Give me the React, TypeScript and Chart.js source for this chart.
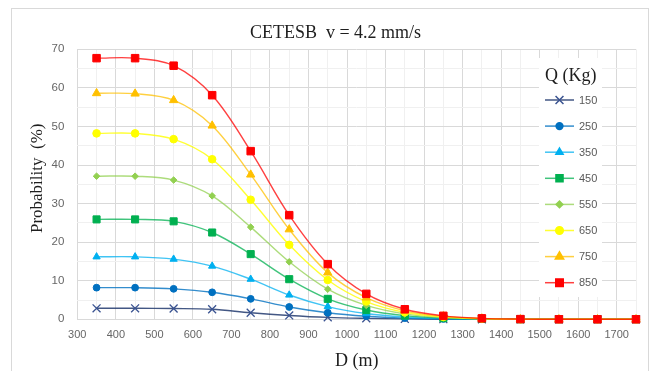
import React, { useEffect, useRef } from 'react';
import { Chart, registerables } from 'chart.js';
import { drawPoint } from 'chart.js/helpers';

Chart.register(...registerables);

// ---- data ----
const distances = [350, 450, 550, 650, 750, 850, 950, 1050, 1150, 1250, 1350, 1450, 1550, 1650, 1750];
const q150 = [2.85, 2.85, 2.8, 2.6, 1.7, 1.0, 0.5, 0.25, 0.1, 0.03, 0, 0, 0, 0, 0];
const q250 = [8.2, 8.2, 7.9, 7.0, 5.3, 3.2, 1.7, 0.8, 0.3, 0.1, 0.03, 0, 0, 0, 0];
const q350 = [16.2, 16.2, 15.6, 13.8, 10.4, 6.3, 3.3, 1.5, 0.6, 0.2, 0.05, 0, 0, 0, 0];
const q450 = [25.9, 25.9, 25.4, 22.5, 16.9, 10.4, 5.3, 2.4, 0.95, 0.3, 0.09, 0, 0, 0, 0];
const q550 = [37.1, 37.1, 36.1, 32.0, 23.9, 14.9, 7.8, 3.6, 1.4, 0.45, 0.13, 0, 0, 0, 0];
const q650 = [48.2, 48.2, 46.7, 41.5, 31.0, 19.3, 10.2, 4.6, 1.8, 0.6, 0.17, 0, 0, 0, 0];
const q750 = [58.6, 58.5, 56.8, 50.2, 37.5, 23.3, 12.1, 5.6, 2.2, 0.75, 0.2, 0, 0, 0, 0];
const q850 = [67.7, 67.7, 65.75, 58.1, 43.6, 27.0, 14.3, 6.6, 2.6, 0.9, 0.25, 0.05, 0, 0, 0];

const seriesLabels = ['150', '250', '350', '450', '550', '650', '750', '850'];
const seriesValues = [q150, q250, q350, q450, q550, q650, q750, q850];

const xMin = 300;
const xMax = 1750;
const xStep = 50;
const yMin = 0;
const yMax = 70;
const yStep = 5;

const chartTitle = 'CETESB  v = 4.2 mm/s';
const xTitle = 'D (m)';
const yTitle = 'Probability  (%)';
const legendTitle = 'Q (Kg)';

// ---- styles ----
const lineColors = [
  'rgba(34,57,110,0.85)',
  'rgba(0,112,192,0.8)',
  'rgba(0,176,240,0.75)',
  'rgba(0,176,80,0.75)',
  'rgba(146,208,80,0.75)',
  'rgba(255,255,0,0.8)',
  'rgba(255,192,0,0.75)',
  'rgba(255,0,0,0.75)',
];
const markerColors = ['#3A5391', '#0070C0', '#00B0F0', '#00B050', '#92D050', '#FFFF00', '#FFC000', '#FF0000'];
const markerStyles = ['crossRot', 'circle', 'triangle', 'rect', 'rectRot', 'circle', 'triangle', 'rect'];
const markerRadii = [5.6, 3.4, 4.2, 5.0, 3.3, 3.8, 4.8, 5.3];

const SERIF = '"Liberation Serif", "DejaVu Serif", serif';
const SANS = '"Liberation Sans", Arial, sans-serif';
const TICK_COLOR = '#666666';

const decorPlugin = {
  id: 'decor',
  beforeDraw(chart: any) {
    const ctx = chart.ctx;
    ctx.save();
    ctx.strokeStyle = '#D9D9D9';
    ctx.lineWidth = 1;
    ctx.strokeRect(3.5, 0.5, 637, 420);
    ctx.restore();
  },
  afterDraw(chart: any) {
    const ctx = chart.ctx;
    const a = chart.chartArea;
    ctx.save();
    // chart title
    ctx.fillStyle = '#1E1E1E';
    ctx.font = `18px ${SERIF}`;
    ctx.textAlign = 'center';
    ctx.textBaseline = 'alphabetic';
    ctx.fillText(chartTitle, 327.5, 29.5);

    // x title
    ctx.textBaseline = 'middle';
    ctx.fillText(xTitle, (a.left + a.right) / 2, 353.5);

    // y title
    ctx.save();
    ctx.translate(29.3, 170.3);
    ctx.rotate(-Math.PI / 2);
    ctx.font = `17px ${SERIF}`;
    ctx.fillText(yTitle, 0, 0);
    ctx.restore();

    // legend box
    ctx.fillStyle = '#FFFFFF';
    ctx.fillRect(531, 50, 63, 239);
    ctx.fillStyle = '#1E1E1E';
    ctx.font = `18px ${SERIF}`;
    ctx.textAlign = 'center';
    ctx.fillText(legendTitle, 562.8, 68.5);

    ctx.font = `11px ${SANS}`;
    ctx.textAlign = 'left';
    for (let i = 0; i < seriesLabels.length; i++) {
      const y = 92 + 26.1 * i;
      ctx.strokeStyle = lineColors[i];
      ctx.lineWidth = 1.5;
      ctx.beginPath();
      ctx.moveTo(537, y);
      ctx.lineTo(566, y);
      ctx.stroke();
      ctx.fillStyle = markerColors[i];
      ctx.strokeStyle = markerColors[i];
      drawPoint(ctx, {
        pointStyle: markerStyles[i] as any,
        radius: markerRadii[i],
        borderWidth: markerStyles[i] === 'crossRot' ? 1.3 : 1,
        rotation: 0,
      } as any, 551.5, y);
      ctx.fillStyle = '#595959';
      ctx.fillText(seriesLabels[i], 571, y + 0.5);
    }
    ctx.restore();
  },
};

export default function App() {
  const ref = useRef<HTMLCanvasElement | null>(null);

  useEffect(() => {
    const canvas = ref.current;
    if (!canvas) return;
    const datasets = seriesLabels.map((label, i) => ({
      label,
      data: distances.map((d, j) => ({ x: d, y: seriesValues[i][j] })),
      borderColor: lineColors[i],
      backgroundColor: markerColors[i],
      pointBackgroundColor: markerColors[i],
      pointBorderColor: markerColors[i],
      pointStyle: markerStyles[i],
      pointRadius: markerRadii[i],
      pointBorderWidth: markerStyles[i] === 'crossRot' ? 1.3 : 1,
      borderWidth: 1.4,
      tension: 0.35,
      fill: false,
      clip: false as any,
      order: seriesLabels.length - 1 - i,
    }));

    const chart = new Chart(canvas, {
      type: 'line',
      data: { datasets },
      plugins: [decorPlugin],
      options: {
        animation: false,
        responsive: false,
        maintainAspectRatio: false,
        devicePixelRatio: 1,
        layout: { padding: { left: 0, top: 41.3, right: 14, bottom: 0 } },
        plugins: {
          legend: { display: false },
          title: { display: false },
          tooltip: { enabled: false },
        },
        scales: {
          x: {
            type: 'linear',
            min: xMin,
            max: xMax,
            afterFit: (scale: any) => { scale.height = 51.7; },
            ticks: {
              stepSize: xStep,
              autoSkip: false,
              maxRotation: 0,
              minRotation: 0,
              padding: 9.5,
              color: TICK_COLOR,
              font: { family: SANS, size: 11 },
              callback: (v: any) => (Number(v) % 100 === 0 ? String(v) : ''),
            },
            grid: {
              drawTicks: false,
              color: (c: any) => (c.tick && c.tick.value % 100 === 0 ? '#D9D9D9' : '#F0F0F0'),
              lineWidth: 1,
            },
            border: { display: true, color: '#D9D9D9' },
          },
          y: {
            type: 'linear',
            min: yMin,
            max: yMax,
            afterFit: (scale: any) => { scale.width = 69.3; },
            ticks: {
              stepSize: yStep,
              autoSkip: false,
              padding: 13,
              color: TICK_COLOR,
              font: { family: SANS, size: 11.5 },
              callback: (v: any) => (Number(v) % 10 === 0 ? String(v) : ''),
            },
            grid: {
              drawTicks: false,
              color: (c: any) => (c.tick && c.tick.value % 10 === 0 ? '#D9D9D9' : '#F0F0F0'),
              lineWidth: 1,
            },
            border: { display: false },
          },
        },
      } as any,
    });
    return () => chart.destroy();
  }, []);

  return (
    <div style={{ width: 642, height: 363 }}>
      <canvas ref={ref} width={642} height={363} style={{ display: 'block', width: 642, height: 363 }} />
    </div>
  );
}
